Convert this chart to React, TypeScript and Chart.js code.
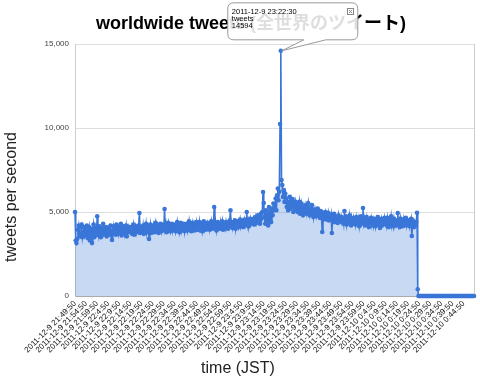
import React, { useEffect, useRef } from 'react';
import { Chart, registerables } from 'chart.js';

Chart.register(...registerables);

const TITLE = 'worldwide tweets (全世界のツイート)';
const X_TITLE = 'time (JST)';
const Y_TITLE = 'tweets per second';
const SERIES_NAME = 'tweets';
const PEAK_TIME_LABEL = '2011-12-9 23:22:30';

// one sample every 20 seconds starting 2011-12-9 21:49:50
const STEP_SECONDS = 20;
const TICK_STEP_SECONDS = 300;

const TICK_LABELS = [
  '2011-12-9 21:49:50', '2011-12-9 21:54:50', '2011-12-9 21:59:50', '2011-12-9 22:4:50',
  '2011-12-9 22:9:50', '2011-12-9 22:14:50', '2011-12-9 22:19:50', '2011-12-9 22:24:50',
  '2011-12-9 22:29:50', '2011-12-9 22:34:50', '2011-12-9 22:39:50', '2011-12-9 22:44:50',
  '2011-12-9 22:49:50', '2011-12-9 22:54:50', '2011-12-9 22:59:50', '2011-12-9 23:4:50',
  '2011-12-9 23:9:50', '2011-12-9 23:14:50', '2011-12-9 23:19:50', '2011-12-9 23:24:50',
  '2011-12-9 23:29:50', '2011-12-9 23:34:50', '2011-12-9 23:39:50', '2011-12-9 23:44:50',
  '2011-12-9 23:49:50', '2011-12-9 23:54:50', '2011-12-9 23:59:50', '2011-12-10 0:4:50',
  '2011-12-10 0:9:50', '2011-12-10 0:14:50', '2011-12-10 0:19:50', '2011-12-10 0:24:50',
  '2011-12-10 0:29:50', '2011-12-10 0:34:50', '2011-12-10 0:39:50', '2011-12-10 0:44:50',
];

const TWEETS = [
  5000, 3300, 3150, 3400, 3950, 4200, 3700, 3550, 4150, 4250, 3500, 3800, 4100, 3650, 3900,
  3600, 4200, 3450, 3850, 4100, 3300, 3700, 4000, 3150, 3950, 4250, 3500, 3750, 4050, 3650,
  4750, 3900, 3600, 4150, 3750, 3500, 4000, 3850, 4300, 3650, 3950, 3700, 4100, 3550, 3900,
  3800, 4050, 3700, 4200, 3600, 3330, 3900, 4150, 3750, 4000, 3650, 4250, 3850, 3700, 4100,
  3950, 3750, 4300, 3600, 4050, 3850, 4150, 3700, 3950, 4200, 3550, 3900, 4100, 3800, 4000,
  3850, 4100, 3700, 4000, 4250, 3650, 3950, 4150, 3800, 4050, 3900, 4200, 4940, 3750, 4000,
  4100, 3850, 4200, 3700, 4050, 3950, 4300, 3800, 4000, 4150, 3390, 3900, 4250, 3750, 4050,
  3950, 4200, 3800, 4100, 4350, 3850, 4000, 4250, 3750, 4150, 3900, 4300, 3850, 4050, 4200,
  4000, 5180, 3900, 4250, 3800, 4100, 4350, 3950, 4200, 3850, 4050, 4300, 3900, 4150, 4000,
  4250, 3850, 4100, 4400, 3950, 4200, 3800, 4050, 4350, 3900, 4150, 4000, 4300, 3850, 4200,
  4050, 4300, 3900, 4150, 4450, 3950, 4200, 3850, 4100, 4350, 4000, 4250, 3900, 4150, 4400,
  3950, 4200, 4050, 4400, 3900, 4150, 4300, 3850, 4100, 4450, 4000, 4250, 3950, 4150, 4350,
  4100, 4300, 3950, 4200, 4450, 4000, 4250, 4100, 5300, 4050, 4350, 3900, 4200, 4400, 4050,
  4250, 4000, 4350, 4150, 4450, 3950, 4200, 4300, 4050, 4400, 4100, 4250, 4000, 4350, 4500,
  5100, 4150, 4300, 4050, 4400, 4200, 4500, 4000, 4350, 4250, 4450, 4100, 4300, 4550, 4150,
  4300, 4450, 4100, 4350, 4550, 4200, 4400, 5000, 4250, 4500, 4150, 4350, 4600, 4300, 4450,
  4400, 4600, 4250, 4500, 4700, 4350, 4550, 4800, 4450, 4650, 4300, 4900, 4600, 5000, 6190,
  5540, 4700, 4300, 5100, 4500, 4900, 4200, 5300, 4600, 5000, 4400, 5200, 4800, 5500, 5100,
  5300, 5800, 5100, 6000, 6400, 5700, 6200, 10238, 14594, 6900, 6600, 5900, 6300, 5600, 6100,
  5800, 5300, 5600, 5100, 5500, 5900, 5200, 5700, 5400, 5770, 5000, 5500, 5300, 5600, 5200,
  5400, 5000, 5300, 5600, 4900, 5200, 5500, 5100, 4800, 5300, 5050, 5400, 5150, 4900, 5250,
  5540, 5000, 4800, 5200, 4900, 5420, 5050, 4700, 5150, 4850, 5100, 4750, 4950, 5200, 4800,
  4900, 4650, 5050, 4750, 3810, 4950, 4600, 4850, 5000, 4550, 4800, 4700, 4950, 4500, 4750,
  4600, 4850, 3750, 4700, 4500, 4900, 4400, 4750, 4550, 4650, 4350, 4800, 4500, 4600, 4450,
  4700, 4400, 4600, 4300, 5060, 4500, 4750, 4250, 4550, 4650, 4350, 4800, 4450, 4200, 4600,
  4400, 4650, 4300, 4550, 4250, 4700, 4450, 4350, 4600, 4150, 4500, 4750, 4300, 4450, 5240,
  4350, 4600, 4200, 4500, 4700, 4250, 4450, 4100, 4550, 4400, 4650, 4300, 4500, 4200, 4600,
  4450, 4150, 4550, 4300, 4700, 4250, 4500, 4050, 4400, 4600, 4200, 4450, 4350, 4650, 4300,
  4500, 4200, 4650, 4350, 4100, 4550, 4400, 4750, 4250, 4450, 4150, 4600, 4300, 4500, 4200,
  4350, 4940, 4250, 4500, 4100, 4600, 4300, 4450, 4150, 4550, 4250, 4400, 4650, 4200, 4450,
  4300, 4500, 4150, 4400, 4600, 3570, 4250, 4450, 4100, 4350, 4200, 4400, 4950, 400, 0,
  0, 0, 0, 0, 0, 0, 0, 0, 0, 0, 0, 0, 0, 0, 0,
  0, 0, 0, 0, 0, 0, 0, 0, 0, 0, 0, 0, 0, 0, 0,
  0, 0, 0, 0, 0, 0, 0, 0, 0, 0, 0, 0, 0, 0, 0,
  0, 0, 0, 0, 0, 0, 0, 0, 0, 0, 0, 0, 0, 0, 0,
  0, 0, 0, 0, 0, 0, 0, 0, 0, 0, 0, 0, 0, 0, 0,
];

const Y_TICKS_STEP = 5000;
const Y_MAX = 15000;

const LINE_COLOR = '#3a76d8';
const FILL_COLOR = 'rgba(58,118,216,0.28)';
const SANS = '"Liberation Sans", Arial, "Noto Sans CJK JP", sans-serif';

export default function App() {
  const ref = useRef<HTMLCanvasElement | null>(null);

  useEffect(() => {
    const canvas = ref.current;
    if (!canvas) return;
    const points = TWEETS.map((v, i) => ({ x: i * STEP_SECONDS, y: v }));
    const xMax = (TWEETS.length - 1) * STEP_SECONDS;
    let peakIndex = 0;
    TWEETS.forEach((v, i) => { if (v > TWEETS[peakIndex]) peakIndex = i; });

    const overlay = {
      id: 'overlay',
      afterDraw(chart: any) {
        const ctx = chart.ctx as CanvasRenderingContext2D;
        ctx.save();
        ctx.fillStyle = '#000';
        ctx.textAlign = 'center';
        ctx.textBaseline = 'alphabetic';
        ctx.font = 'bold 18px ' + SANS;
        ctx.fillText(TITLE, 251, 29);
        ctx.fillStyle = '#222';
        ctx.font = '16px ' + SANS;
        ctx.fillText(X_TITLE, 238, 373);
        ctx.translate(16, 197);
        ctx.rotate(-Math.PI / 2);
        ctx.fillText(Y_TITLE, 0, 0);
        ctx.restore();

        const el = chart.getDatasetMeta(0).data[peakIndex];
        const px = el.x;
        const py = el.y;
        const L = px - 53, R = px + 77, T = py - 48, B = py - 11, r = 6;
        ctx.save();
        ctx.beginPath();
        ctx.moveTo(L + r, T);
        ctx.lineTo(R - r, T);
        ctx.quadraticCurveTo(R, T, R, T + r);
        ctx.lineTo(R, B - r);
        ctx.quadraticCurveTo(R, B, R - r, B);
        ctx.lineTo(px + 45, B);
        ctx.lineTo(px + 1, py);
        ctx.lineTo(px + 23, B);
        ctx.lineTo(L + r, B);
        ctx.quadraticCurveTo(L, B, L, B - r);
        ctx.lineTo(L, T + r);
        ctx.quadraticCurveTo(L, T, L + r, T);
        ctx.closePath();
        ctx.fillStyle = 'rgba(255,255,255,0.87)';
        ctx.fill();
        ctx.strokeStyle = '#999';
        ctx.lineWidth = 1;
        ctx.stroke();
        ctx.fillStyle = '#000';
        ctx.textAlign = 'left';
        ctx.font = '7.5px ' + SANS;
        ctx.fillText(PEAK_TIME_LABEL, L + 4, T + 11);
        ctx.fillText(SERIES_NAME, L + 4, T + 18);
        ctx.fillText(String(TWEETS[peakIndex]), L + 4, T + 25);
        const cx = Math.round(R - 11) + 0.5, cy = Math.round(T + 5) + 0.5;
        ctx.strokeStyle = '#888';
        ctx.strokeRect(cx, cy, 6, 6);
        ctx.beginPath();
        ctx.moveTo(cx + 1.5, cy + 1.5); ctx.lineTo(cx + 4.5, cy + 4.5);
        ctx.moveTo(cx + 4.5, cy + 1.5); ctx.lineTo(cx + 1.5, cy + 4.5);
        ctx.stroke();
        ctx.restore();
      },
    };

    const chart = new Chart(canvas, {
      type: 'line',
      data: {
        datasets: [{
          label: SERIES_NAME,
          data: points,
          borderColor: LINE_COLOR,
          backgroundColor: FILL_COLOR,
          fill: 'origin',
          borderWidth: 1.6,
          pointRadius: 2.3,
          pointBorderWidth: 0,
          pointBackgroundColor: LINE_COLOR,
          tension: 0,
          clip: false,
        } as any],
      },
      options: {
        responsive: false,
        animation: false,
        events: [],
        layout: { padding: { top: 44, right: 6, left: 0, bottom: 0 } },
        plugins: {
          legend: { display: false },
          tooltip: { enabled: false },
          title: { display: false },
        },
        scales: {
          x: {
            type: 'linear',
            min: 0,
            max: xMax,
            afterBuildTicks: (s: any) => {
              s.ticks = TICK_LABELS.map((_, k) => ({ value: k * TICK_STEP_SECONDS }))
                .concat([{ value: xMax }]);
            },
            grid: {
              drawTicks: false,
              color: (c: any) => (c.tick && c.tick.value === xMax ? '#ccc' : 'rgba(0,0,0,0)'),
            },
            border: { display: true, color: '#aaa', width: 1 },
            ticks: {
              autoSkip: false,
              maxRotation: 45,
              minRotation: 45,
              padding: 3,
              color: '#111',
              font: { family: SANS, size: 8 },
              callback: (value: any) => {
                const k = Number(value) / TICK_STEP_SECONDS;
                return Number.isInteger(k) && TICK_LABELS[k] ? TICK_LABELS[k] : '';
              },
            },
            afterFit: (s: any) => {
              s.height = 88;
              s.paddingLeft = 0;
              s.paddingRight = 0;
            },
          },
          y: {
            min: 0,
            max: Y_MAX,
            grid: {
              drawTicks: false,
              color: (c: any) => (c.tick && c.tick.value === 0 ? '#aaa' : '#ddd'),
            },
            border: { display: true, color: '#ccc' },
            ticks: {
              stepSize: Y_TICKS_STEP,
              padding: 6,
              color: '#444',
              font: { family: SANS, size: 8 },
            },
            afterFit: (s: any) => {
              s.width = 75;
              s.paddingTop = 0;
              s.paddingBottom = 0;
            },
          },
        },
      } as any,
      plugins: [overlay],
    });
    return () => chart.destroy();
  }, []);

  return (
    <div style={{ position: 'fixed', left: 0, top: 0, width: 480, height: 384, background: '#fff' }}>
      <canvas ref={ref} width={480} height={384} style={{ width: 480, height: 384, display: 'block' }} />
    </div>
  );
}
